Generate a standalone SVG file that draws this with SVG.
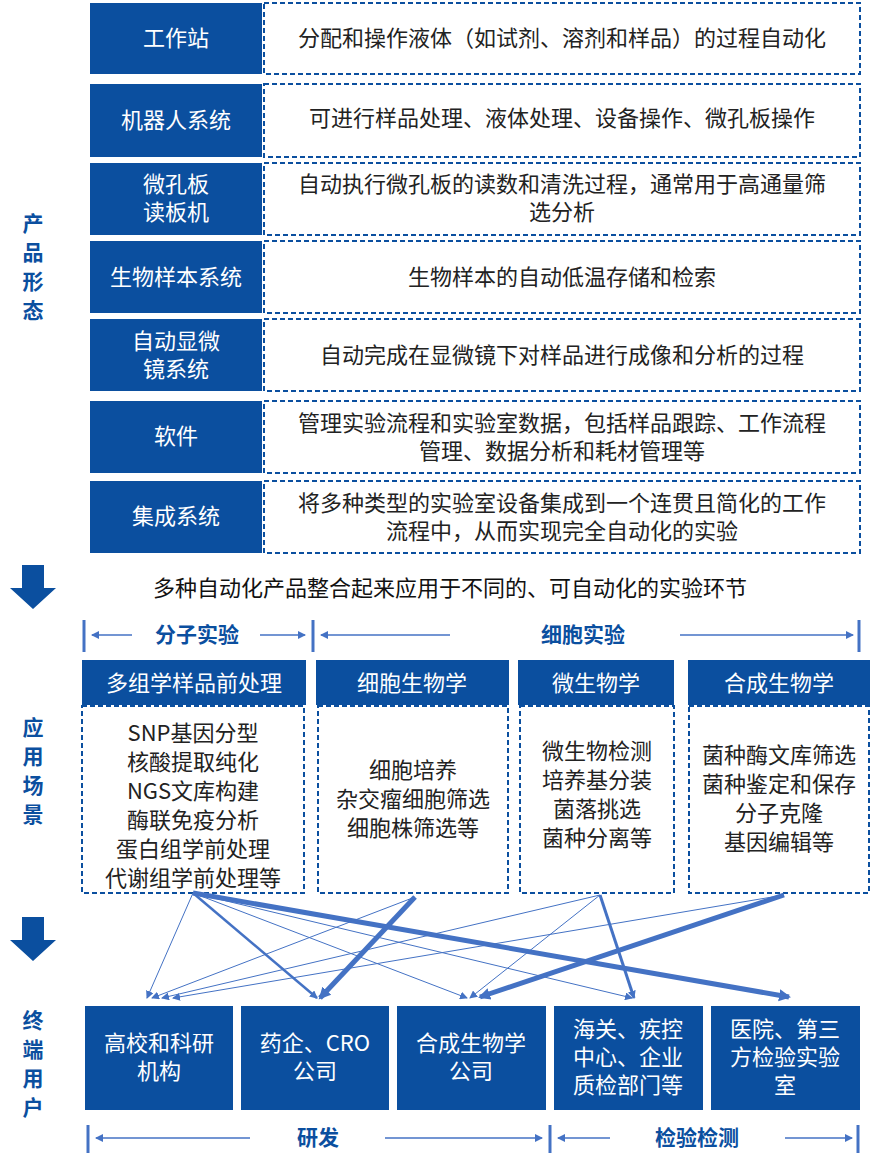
<svg xmlns="http://www.w3.org/2000/svg" width="882" height="1172" viewBox="0 0 882 1172">
<style>
text{font-family:"Noto Sans CJK SC","Noto Sans",sans-serif;}
.d{fill:#0b4f9f;}
.w{fill:#fff;font-size:22px;text-anchor:middle;}
.b{fill:#222;font-size:22px;text-anchor:middle;}
.dash{fill:#fff;stroke:#0b4f9f;stroke-width:2;stroke-dasharray:5,3;}
.sl{fill:#0b4f9f;font-size:21px;font-weight:bold;text-anchor:middle;}
.bl{fill:#0b4f9f;font-size:21px;font-weight:bold;text-anchor:middle;}
.bar{stroke:#4472c4;stroke-width:3;}
.ar{stroke:#4472c4;stroke-width:1.5;fill:none;marker-end:url(#ah);}
.c{stroke:#4472c4;fill:none;}
</style>
<defs>
<marker id="ah" markerWidth="8" markerHeight="8" refX="7" refY="4" orient="auto" markerUnits="userSpaceOnUse"><path d="M0,0L8,4L0,8z" fill="#4472c4"/></marker>
<marker id="m" markerWidth="8" markerHeight="8" refX="7" refY="4" orient="auto" markerUnits="userSpaceOnUse"><path d="M0,0L8,4L0,8z" fill="#4472c4"/></marker>
<marker id="mb" markerWidth="14" markerHeight="14" refX="10" refY="7" orient="auto" markerUnits="userSpaceOnUse"><path d="M0,1L12,7L0,13z" fill="#4472c4"/></marker>
</defs>
<rect width="882" height="1172" fill="#fff"/>
<g id="products">
<rect class="d" x="90" y="3" width="172" height="71"/><rect class="dash" x="264" y="3" width="596" height="71"/>
<text class="w" x="176" y="46">工作站</text><text class="b" x="562" y="46">分配和操作液体（如试剂、溶剂和样品）的过程自动化</text>
<rect class="d" x="90" y="84" width="172" height="73"/><rect class="dash" x="264" y="84" width="596" height="73"/>
<text class="w" x="176" y="128">机器人系统</text><text class="b" x="562" y="126">可进行样品处理、液体处理、设备操作、微孔板操作</text>
<rect class="d" x="90" y="163" width="172" height="72"/><rect class="dash" x="264" y="163" width="596" height="72"/>
<text class="w" x="176" y="192">微孔板</text><text class="w" x="176" y="220">读板机</text>
<text class="b" x="562" y="192">自动执行微孔板的读数和清洗过程，通常用于高通量筛</text><text class="b" x="562" y="220">选分析</text>
<rect class="d" x="90" y="241" width="172" height="72"/><rect class="dash" x="264" y="241" width="596" height="72"/>
<text class="w" x="176" y="285">生物样本系统</text><text class="b" x="562" y="285">生物样本的自动低温存储和检索</text>
<rect class="d" x="90" y="319" width="172" height="72"/><rect class="dash" x="264" y="319" width="596" height="72"/>
<text class="w" x="176" y="349">自动显微</text><text class="w" x="176" y="377">镜系统</text><text class="b" x="562" y="363">自动完成在显微镜下对样品进行成像和分析的过程</text>
<rect class="d" x="90" y="401" width="172" height="72"/><rect class="dash" x="264" y="401" width="596" height="72"/>
<text class="w" x="176" y="444">软件</text>
<text class="b" x="562" y="431">管理实验流程和实验室数据，包括样品跟踪、工作流程</text><text class="b" x="562" y="459">管理、数据分析和耗材管理等</text>
<rect class="d" x="90" y="481" width="172" height="72"/><rect class="dash" x="264" y="481" width="596" height="72"/>
<text class="w" x="176" y="524">集成系统</text>
<text class="b" x="562" y="511">将多种类型的实验室设备集成到一个连贯且简化的工作</text><text class="b" x="562" y="539">流程中，从而实现完全自动化的实验</text>
</g>
<g id="side-labels">
<text class="sl" x="33" y="231">产</text><text class="sl" x="33" y="260">品</text><text class="sl" x="33" y="289">形</text><text class="sl" x="33" y="318">态</text>
<text class="sl" x="33" y="735">应</text><text class="sl" x="33" y="764">用</text><text class="sl" x="33" y="793">场</text><text class="sl" x="33" y="822">景</text>
<text class="sl" x="33" y="1028">终</text><text class="sl" x="33" y="1057">端</text><text class="sl" x="33" y="1086">用</text><text class="sl" x="33" y="1115">户</text>
<path class="d" d="M22,565H44V588H56L33,609L10,588H22Z"/>
<path class="d" d="M22,917H44V940H56L33,961L10,940H22Z"/>
</g>
<text x="450" y="596" style="font-size:22px;fill:#111;text-anchor:middle">多种自动化产品整合起来应用于不同的、可自动化的实验环节</text>
<g id="brackets">
<line class="bar" x1="84" y1="620" x2="84" y2="652"/><line class="bar" x1="313" y1="620" x2="313" y2="652"/><line class="bar" x1="859" y1="620" x2="859" y2="652"/>
<line class="ar" x1="132" y1="635" x2="92" y2="635"/><line class="ar" x1="260" y1="635" x2="305" y2="635"/>
<line class="ar" x1="450" y1="635" x2="321" y2="635"/><line class="ar" x1="680" y1="635" x2="853" y2="635"/>
<text class="bl" x="197" y="642">分子实验</text><text class="bl" x="583" y="642">细胞实验</text>
<line class="bar" x1="88" y1="1125" x2="88" y2="1153"/><line class="bar" x1="550" y1="1125" x2="550" y2="1153"/><line class="bar" x1="858" y1="1125" x2="858" y2="1153"/>
<line class="ar" x1="250" y1="1138" x2="96" y2="1138"/><line class="ar" x1="385" y1="1138" x2="542" y2="1138"/>
<line class="ar" x1="610" y1="1138" x2="558" y2="1138"/><line class="ar" x1="785" y1="1138" x2="852" y2="1138"/>
<text class="bl" x="318" y="1145">研发</text><text class="bl" x="697" y="1145">检验检测</text>
</g>
<g id="scenarios">
<rect class="d" x="82" y="660" width="224" height="45"/><text class="w" x="194" y="691">多组学样品前处理</text>
<rect class="d" x="316" y="660" width="193" height="45"/><text class="w" x="412" y="691">细胞生物学</text>
<rect class="d" x="518" y="660" width="156" height="45"/><text class="w" x="596" y="691">微生物学</text>
<rect class="d" x="688" y="660" width="182" height="45"/><text class="w" x="779" y="691">合成生物学</text>
<rect class="dash" x="82" y="706" width="222" height="187"/>
<rect class="dash" x="318" y="706" width="190" height="187"/>
<rect class="dash" x="520" y="706" width="154" height="187"/>
<rect class="dash" x="689" y="706" width="180" height="187"/>
<text class="b" x="193" y="741">SNP基因分型</text><text class="b" x="193" y="770">核酸提取纯化</text><text class="b" x="193" y="799">NGS文库构建</text><text class="b" x="193" y="828">酶联免疫分析</text><text class="b" x="193" y="857">蛋白组学前处理</text><text class="b" x="193" y="886">代谢组学前处理等</text>
<text class="b" x="413" y="778">细胞培养</text><text class="b" x="413" y="807">杂交瘤细胞筛选</text><text class="b" x="413" y="836">细胞株筛选等</text>
<text class="b" x="597" y="759">微生物检测</text><text class="b" x="597" y="788">培养基分装</text><text class="b" x="597" y="817">菌落挑选</text><text class="b" x="597" y="846">菌种分离等</text>
<text class="b" x="779" y="763">菌种酶文库筛选</text><text class="b" x="779" y="792">菌种鉴定和保存</text><text class="b" x="779" y="821">分子克隆</text><text class="b" x="779" y="850">基因编辑等</text>
</g>
<g id="connectors">
<line class="c" stroke-width="1" marker-end="url(#m)" x1="193" y1="893" x2="147" y2="998"/>
<line class="c" stroke-width="2.5" marker-end="url(#m)" x1="193" y1="893" x2="317" y2="998"/>
<line class="c" stroke-width="1" marker-end="url(#m)" x1="193" y1="893" x2="467" y2="998"/>
<line class="c" stroke-width="1" marker-end="url(#m)" x1="193" y1="893" x2="632" y2="998"/>
<line class="c" stroke-width="5" marker-end="url(#mb)" x1="193" y1="893" x2="789" y2="997"/>
<line class="c" stroke-width="1" marker-end="url(#m)" x1="415" y1="897" x2="152" y2="998"/>
<line class="c" stroke-width="5" marker-end="url(#mb)" x1="415" y1="897" x2="320" y2="998"/>
<line class="c" stroke-width="1" marker-end="url(#m)" x1="600" y1="895" x2="162" y2="998"/>
<line class="c" stroke-width="1" marker-end="url(#m)" x1="600" y1="895" x2="470" y2="998"/>
<line class="c" stroke-width="3" marker-end="url(#m)" x1="600" y1="895" x2="634" y2="998"/>
<line class="c" stroke-width="1" marker-end="url(#m)" x1="784" y1="895" x2="173" y2="998"/>
<line class="c" stroke-width="5" marker-end="url(#mb)" x1="784" y1="895" x2="480" y2="997"/>
</g>
<g id="users">
<rect class="d" x="85" y="1006" width="148" height="104"/><text class="w" x="159" y="1051">高校和科研</text><text class="w" x="159" y="1079">机构</text>
<rect class="d" x="241" y="1006" width="148" height="104"/><text class="w" x="315" y="1051">药企、CRO</text><text class="w" x="315" y="1079">公司</text>
<rect class="d" x="397" y="1006" width="149" height="104"/><text class="w" x="471" y="1051">合成生物学</text><text class="w" x="471" y="1079">公司</text>
<rect class="d" x="554" y="1006" width="149" height="104"/><text class="w" x="628" y="1037">海关、疾控</text><text class="w" x="628" y="1065">中心、企业</text><text class="w" x="628" y="1093">质检部门等</text>
<rect class="d" x="711" y="1006" width="149" height="104"/><text class="w" x="785" y="1037">医院、第三</text><text class="w" x="785" y="1065">方检验实验</text><text class="w" x="785" y="1093">室</text>
</g>
</svg>
